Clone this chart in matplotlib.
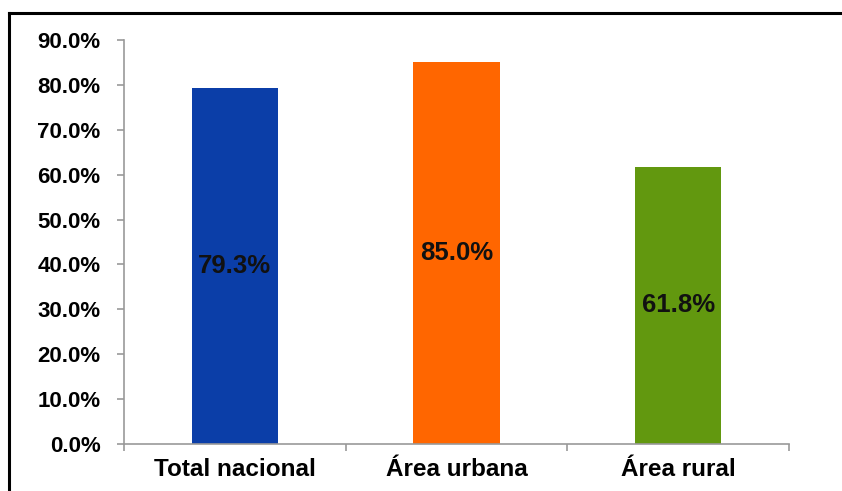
import matplotlib
matplotlib.use('Agg')
import matplotlib.pyplot as plt
from matplotlib.lines import Line2D
import matplotlib.ticker as ticker

# Datos del gráfico
categorias = ['Total nacional', 'Área urbana', 'Área rural']
valores = [79.3, 85.0, 61.8]
colores = ['#0b3ea8', '#ff6600', '#62980f']

plt.rcParams['font.family'] = ['Liberation Sans', 'DejaVu Sans']

fig = plt.figure(figsize=(8.42, 4.91), dpi=100)
ax = fig.add_axes([124 / 842, 1 - 444 / 491, (789 - 124) / 842, (444 - 40) / 491])

posiciones = range(len(categorias))
ax.bar(posiciones, valores, width=0.39, color=colores, edgecolor='none')

# Etiquetas de valor en el centro de cada barra
for x, v in zip(posiciones, valores):
    ax.text(x, v / 2, f'{v:.1f}%', ha='center', va='center',
            fontsize=18.5, fontweight='bold', color='#111111')

ax.set_xlim(-0.5, len(categorias) - 0.5)
ax.set_ylim(0, 90)
ax.set_yticks(range(0, 91, 10))
ax.yaxis.set_major_formatter(ticker.FuncFormatter(lambda y, _: f'{y:.1f}%'))
ax.set_xticks(posiciones)
ax.set_xticklabels(categorias)

# Marcas del eje x en los límites de las categorías
ax.set_xticks([-0.5, 0.5, 1.5, 2.5], minor=True)
ax.tick_params(axis='x', which='major', length=0, pad=10, labelsize=17.5)
ax.tick_params(axis='x', which='minor', length=5, color='#999999', width=1.2)
ax.tick_params(axis='y', length=5, color='#999999', width=1.2, pad=12, labelsize=16)

for lbl in ax.get_yticklabels():
    lbl.set_fontweight('bold')
for lbl in ax.get_xticklabels():
    lbl.set_fontweight('bold')

ax.spines['top'].set_visible(False)
ax.spines['right'].set_visible(False)
ax.spines['left'].set_color('#999999')
ax.spines['bottom'].set_color('#999999')
ax.spines['left'].set_linewidth(1.2)
ax.spines['bottom'].set_linewidth(1.2)

# Marco exterior (superior e izquierdo)
fig.add_artist(Line2D([9 / 842, 1.0], [1 - 13 / 491, 1 - 13 / 491],
                      transform=fig.transFigure, color='black', linewidth=2.2))
fig.add_artist(Line2D([9 / 842, 9 / 842], [1 - 13 / 491, 0.0],
                      transform=fig.transFigure, color='black', linewidth=2.2))

fig.savefig('out.png', dpi=100)
